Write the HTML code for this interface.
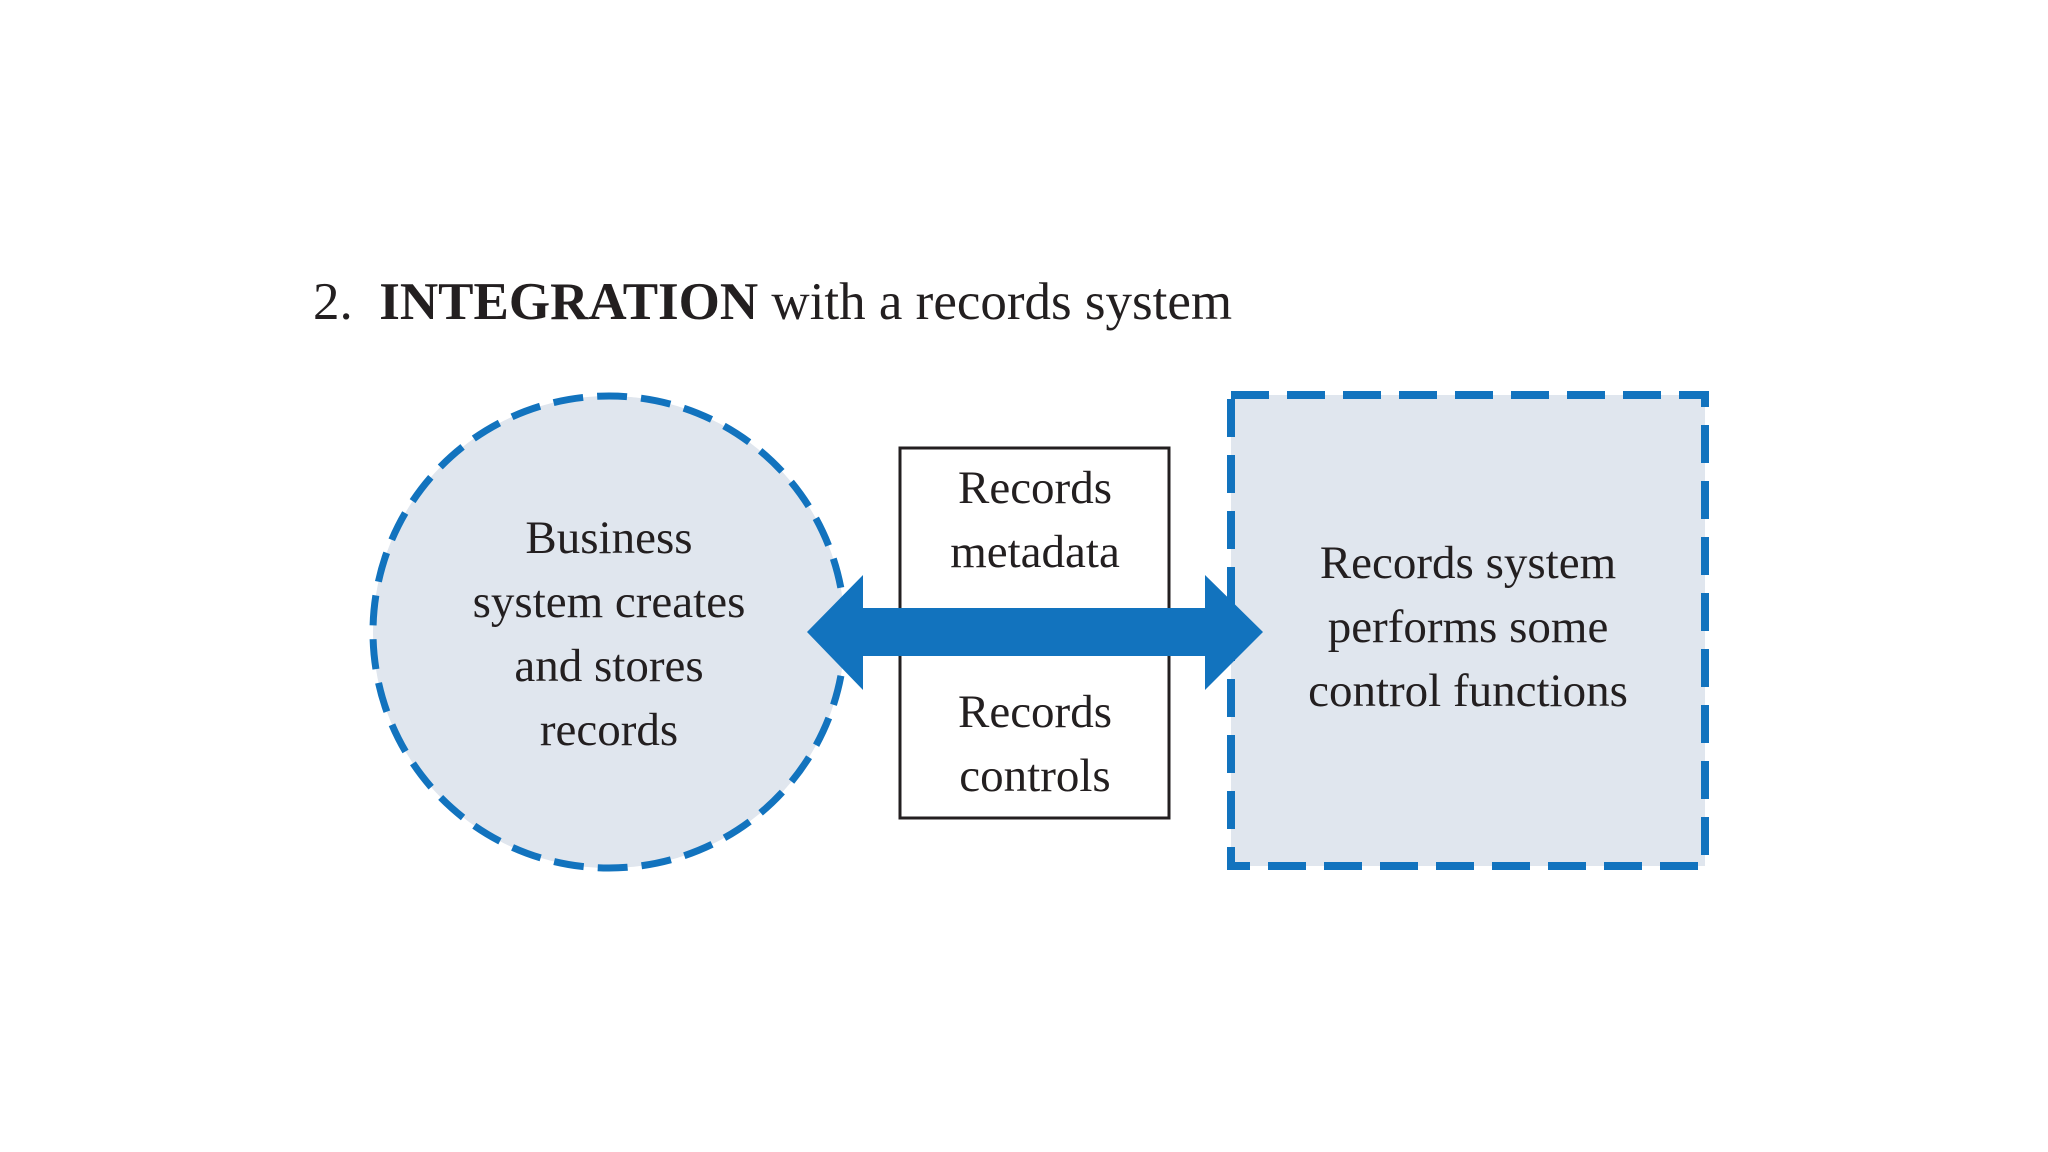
<!DOCTYPE html>
<html><head><meta charset="utf-8"><style>
html,body{margin:0;padding:0;background:#fff;}
body{width:2048px;height:1152px;position:relative;overflow:hidden;font-family:"Liberation Serif",serif;color:#231f20;}
.t{position:absolute;font-size:47px;text-align:center;line-height:64px;white-space:nowrap;}
</style></head><body>
<svg width="2048" height="1152" style="position:absolute;left:0;top:0">
<circle cx="609" cy="632" r="236" fill="#e0e6ee" stroke="#1273be" stroke-width="7" stroke-dasharray="30 14"/>
<rect x="1231" y="395" width="474" height="471" fill="#e0e6ee" stroke="#1273be" stroke-width="8" stroke-dasharray="38 18"/>
<rect x="900" y="448" width="269" height="370" fill="#fff" stroke="#231f20" stroke-width="3"/>
<polygon fill="#1273be" points="807,632 863,575 863,608 1205,608 1205,575 1263,632 1205,690 1205,656 863,656 863,690"/>
</svg>
<div style="position:absolute;left:313px;top:272px;font-size:53px;white-space:nowrap;">2.&nbsp; <b>INTEGRATION</b> with a records system</div>
<div class="t" style="left:409px;width:400px;top:506px;">Business<br>system creates<br>and stores<br>records</div>
<div class="t" style="left:885px;width:300px;top:456px;">Records<br>metadata</div>
<div class="t" style="left:885px;width:300px;top:680px;">Records<br>controls</div>
<div class="t" style="left:1268px;width:400px;top:531px;">Records system<br>performs some<br>control functions</div>
</body></html>
